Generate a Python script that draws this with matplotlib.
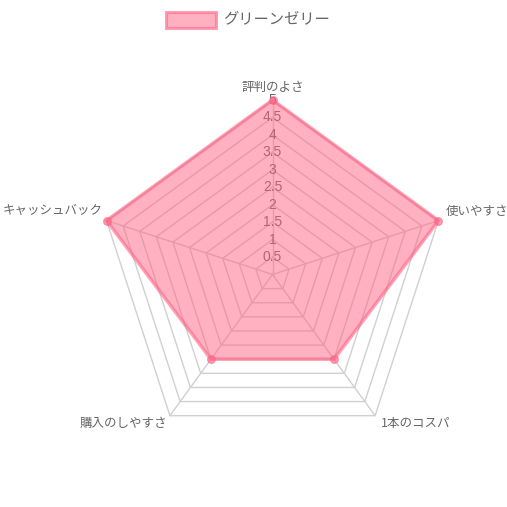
import numpy as np
import matplotlib
matplotlib.use("Agg")
import matplotlib.pyplot as plt
from matplotlib.patches import Rectangle

plt.rcParams['font.family'] = ['Noto Sans CJK JP', 'DejaVu Sans']

categories = ["評判のよさ", "使いやすさ", "1本のコスパ", "購入のしやすさ", "キャッシュバック"]
values = [5, 5, 3, 3, 5]
series_name = "グリーンゼリー"
tick_values = [0.5, 1, 1.5, 2, 2.5, 3, 3.5, 4, 4.5, 5]
tick_labels = ["0.5", "1", "1.5", "2", "2.5", "3", "3.5", "4", "4.5", "5"]
r_max = 5

W = H = 507
DPI = 100
fig = plt.figure(figsize=(W / DPI, H / DPI), dpi=DPI)
fig.patch.set_facecolor("white")

# layout (pixels)
cx, cy, rad = 272.5, 274.5, 174.5
ax = fig.add_axes([(cx - rad) / W, (H - cy - rad) / H, 2 * rad / W, 2 * rad / H],
                  projection="polar")
ax.set_theta_offset(np.pi / 2)
ax.set_theta_direction(-1)
ax.set_ylim(0, r_max)
ax.axis("off")

n = len(categories)
angles = np.linspace(0, 2 * np.pi, n, endpoint=False)
closed = np.concatenate([angles, angles[:1]])

grid_col = "#d0d0d0"
for tv in tick_values:
    ax.plot(closed, [tv] * (n + 1), color=grid_col, lw=1, zorder=1, clip_on=False)
for a in angles:
    ax.plot([a, a], [0, r_max], color=grid_col, lw=1, zorder=1, clip_on=False)

for tv, tl in zip(tick_values, tick_labels):
    ax.text(0, tv, tl, ha="center", va="center", fontsize=10, color="#666666",
            family=["Liberation Sans", "DejaVu Sans"], zorder=2)

pink = (255 / 255, 99 / 255, 132 / 255)
vals = np.array(values + values[:1], dtype=float)
ax.fill(closed, vals, color=pink, alpha=0.5, lw=0, zorder=3)
ax.plot(closed, vals, color=pink, alpha=0.6, lw=2.5, zorder=4, clip_on=False)
ax.plot(angles, values, "o", ms=5.5, mfc=(1, 99 / 255, 132 / 255, 0.6),
        mec=(1, 99 / 255, 132 / 255, 0.6), mew=1, zorder=5, clip_on=False, ls="none")

offsets = [(0, 13, "center"), (7, 9.5, "left"), (6, -7.5, "left"),
           (-3, -7.5, "right"), (-4, 10, "right")]
for a, lab, (dx, dy, ha) in zip(angles, categories, offsets):
    ax.annotate(lab, xy=(a, r_max), xytext=(dx, dy), textcoords="offset pixels",
                ha=ha, va="center", fontsize=9, color="#666666", annotation_clip=False)

# legend
fig.patches.append(Rectangle((166 / W, 1 - 27.5 / H), 50 / W, 15 / H,
                             transform=fig.transFigure, facecolor=(1, 99 / 255, 132 / 255, 0.5),
                             edgecolor=(1, 99 / 255, 132 / 255, 0.6), lw=2.2))
fig.text(223 / W, 1 - 19 / H, series_name, ha="left", va="center", fontsize=11,
         color="#666666")

fig.savefig("out.png", dpi=DPI, facecolor="white")
